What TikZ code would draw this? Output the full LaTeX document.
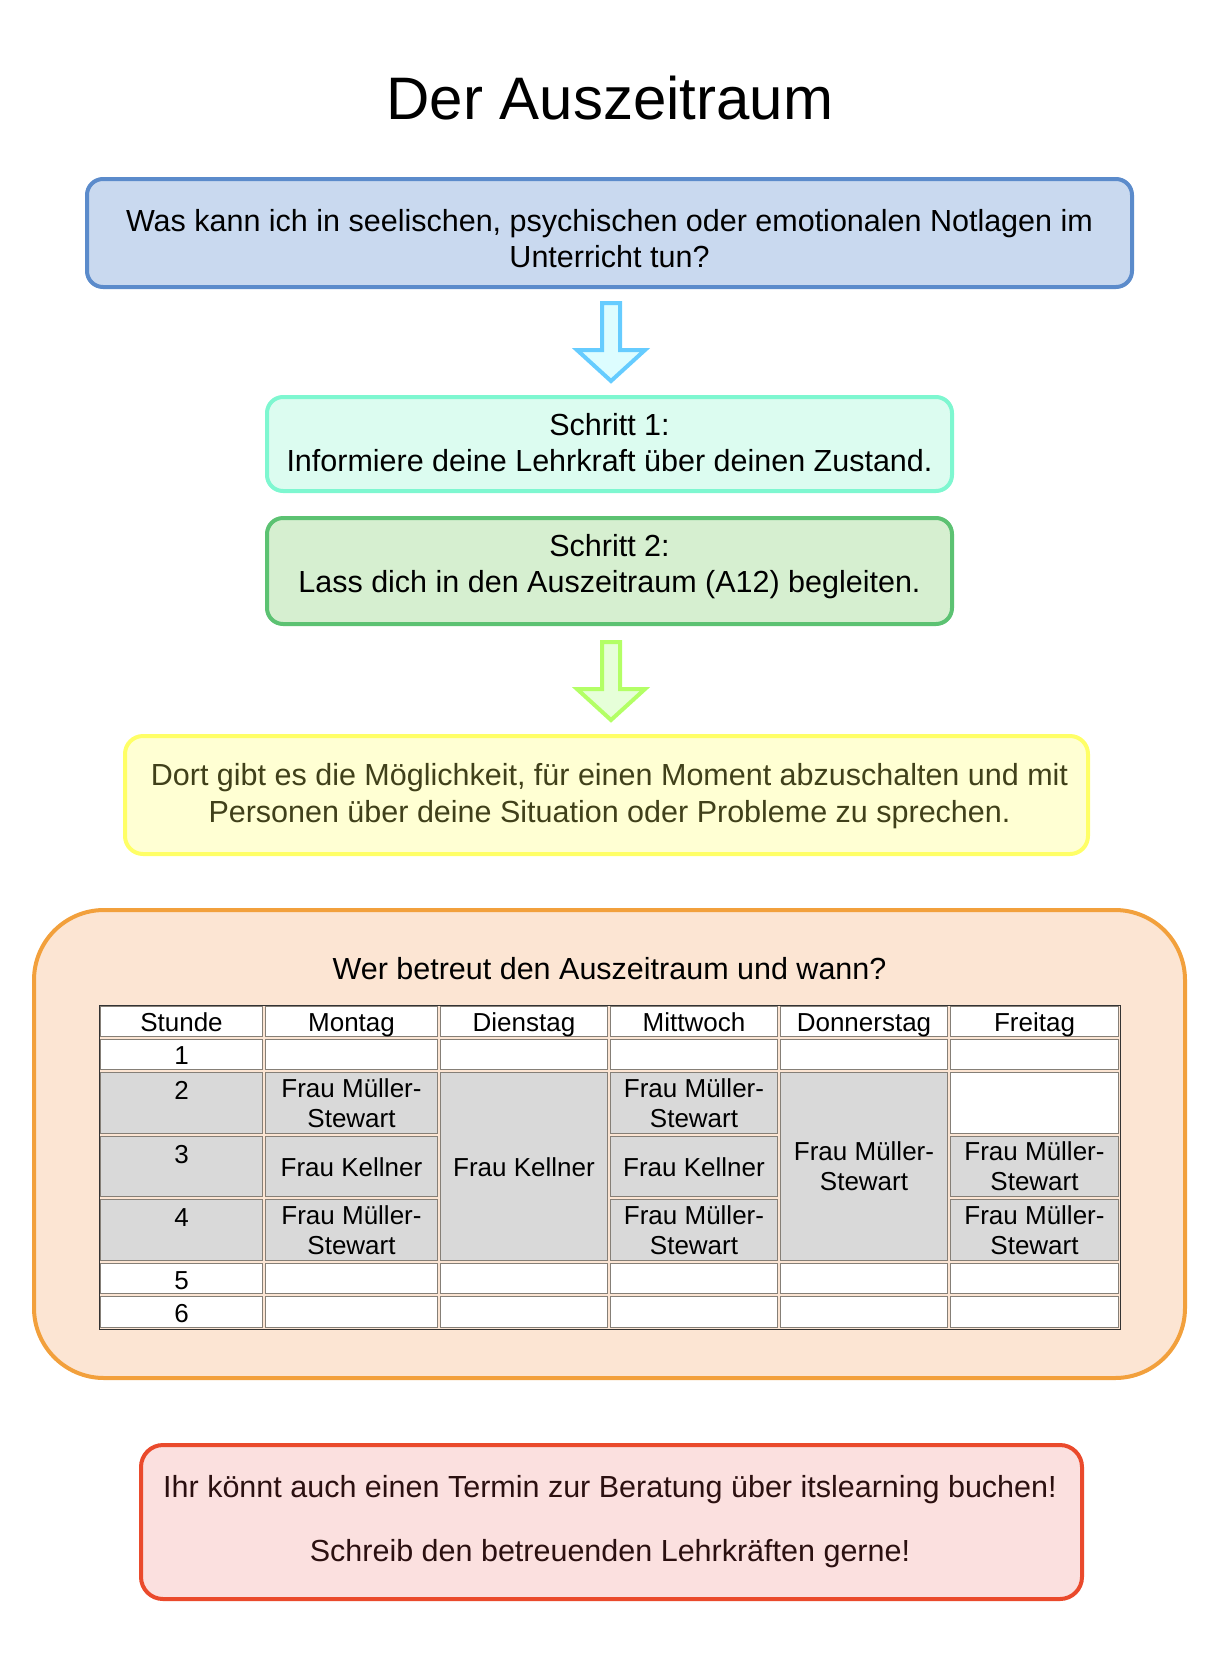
\documentclass[tikz,border=0pt]{standalone}
\usepackage{fontspec}
\setmainfont{Liberation Sans}
\usepackage{tikz}

\definecolor{blauRand}{HTML}{5B8BCB}
\definecolor{blauFill}{HTML}{C9D9EF}
\definecolor{mintRand}{HTML}{7EF7D0}
\definecolor{mintFill}{HTML}{DCFCF0}
\definecolor{gruenRand}{HTML}{5CC272}
\definecolor{gruenFill}{HTML}{D6EFD0}
\definecolor{gelbRand}{HTML}{FFFF66}
\definecolor{gelbFill}{HTML}{FFFFD3}
\definecolor{gelbText}{HTML}{40401A}
\definecolor{orangeRand}{HTML}{F2A03C}
\definecolor{orangeFill}{HTML}{FCE5D3}
\definecolor{rotRand}{HTML}{EA4A2C}
\definecolor{rotFill}{HTML}{FBE0DF}
\definecolor{rotText}{HTML}{2B1010}
\definecolor{cyanRand}{HTML}{66CCFF}
\definecolor{cyanFill}{HTML}{DDFDFF}
\definecolor{limeRand}{HTML}{B3FF66}
\definecolor{limeFill}{HTML}{E6FFD9}
\definecolor{zellRand}{HTML}{857F77}
\definecolor{zellGrau}{HTML}{D9D9D9}

\newcommand{\titelfont}{\fontsize{60}{70}\selectfont}
\newcommand{\fliessfont}{\fontsize{30.5}{36}\selectfont}
\newcommand{\tabfont}{\fontsize{26}{30}\selectfont}

\begin{document}
\begin{tikzpicture}[x=1pt, y=-1pt,
    kasten/.style={line width=4pt, rounded corners=16pt, inner sep=0pt},
    fliess/.style={font=\fliessfont, align=center, inner sep=0pt},
    zelle/.style={draw=zellRand, line width=1.6pt},
    ztext/.style={font=\tabfont, align=center, inner sep=0pt},
    pfeil/.style={line width=4pt, line join=miter}]
        \useasboundingbox (0,0) rectangle (1220,1660);

        % titel
        \node[font=\titelfont, inner sep=0pt] (titel) at (610,98) {Der Auszeitraum};

        % frage
        \node[kasten, draw=blauRand, fill=blauFill, minimum width=1045pt, minimum height=108pt] (frage) at (609.5,233) {};
        \node[fliess] (frageText) at (609.5,239) {Was kann ich in seelischen, psychischen oder emotionalen Notlagen im\\Unterricht tun?};

        % pfeil 1
        \filldraw[pfeil, draw=cyanRand, fill=cyanFill] (602,303) -- (620,303) -- (620,350) -- (645,350)
            -- (611,381) -- (577,350) -- (602,350) -- cycle;

        % schritt 1 + 2
        \node[kasten, draw=mintRand, fill=mintFill, minimum width=685pt, minimum height=94pt] (schritt1) at (609.5,444) {};
        \node[fliess] (schritt1Text) at (609.5,443) {Schritt 1:\\Informiere deine Lehrkraft über deinen Zustand.};
        \node[kasten, draw=gruenRand, fill=gruenFill, minimum width=685pt, minimum height=106pt] (schritt2) at (609.5,571) {};
        \node[fliess] (schritt2Text) at (609.5,567) {Schritt 2:\\Lass dich in den Auszeitraum (A12) begleiten.};

        % pfeil 2
        \filldraw[pfeil, draw=limeRand, fill=limeFill] (602,642) -- (620,642) -- (620,689) -- (645,689)
            -- (611,720) -- (577,689) -- (602,689) -- cycle;

        % hinweis
        \node[kasten, rounded corners=18pt, draw=gelbRand, fill=gelbFill, minimum width=963pt, minimum height=118pt] (hinweis) at (606.5,795) {};
        \node[fliess, text=gelbText, font=\fontsize{30.5}{37}\selectfont] (hinweisText) at (609.5,796.5) {Dort gibt es die Möglichkeit, für einen Moment abzuschalten und mit\\Personen über deine Situation oder Probleme zu sprechen.};

        % betreuung
        \node[kasten, rounded corners=70pt, draw=orangeRand, fill=orangeFill, minimum width=1151pt, minimum height=468pt] (betreuung) at (609.5,1144) {};
        \node[fliess] (frageWer) at (609.5,969) {Wer betreut den Auszeitraum und wann?};

        % tabelle
        \foreach \ya/\yb in {1005/1038, 1038/1071, 1262/1295, 1295/1329}
          \foreach \xa/\xb in {99/264, 264/439, 439/609, 609/779, 779/949, 949/1120}
            \filldraw[zelle, fill=white] (\xa+1.5,\ya+1.5) rectangle (\xb-1.5,\yb-1.5);
        \foreach \ya/\yb in {1071/1135, 1135/1198, 1198/1262}
          \foreach \xa/\xb in {99/264, 264/439, 609/779}
            \filldraw[zelle, fill=zellGrau] (\xa+1.5,\ya+1.5) rectangle (\xb-1.5,\yb-1.5);
        \filldraw[zelle, fill=zellGrau] (440.5,1072.5) rectangle (607.5,1260.5);
        \filldraw[zelle, fill=zellGrau] (780.5,1072.5) rectangle (947.5,1260.5);
        \filldraw[zelle, fill=white] (950.5,1072.5) rectangle (1118.5,1133.5);
        \filldraw[zelle, fill=zellGrau] (950.5,1136.5) rectangle (1118.5,1196.5);
        \filldraw[zelle, fill=zellGrau] (950.5,1199.5) rectangle (1118.5,1260.5);
        \draw[line width=1pt, black!80] (99,1005) rectangle (1120,1329);

        % kopfzeile + stunden
        \foreach \x/\n in {181.5/Stunde, 351.5/Montag, 524/Dienstag, 694/Mittwoch, 864/Donnerstag, 1034.5/Freitag}
          \node[ztext, anchor=base] (kopf\n) at (\x,1031) {\n};
        \foreach \n/\y in {1/1064, 2/1099, 3/1163, 4/1226, 5/1289, 6/1322}
          \node[ztext, anchor=base] (std\n) at (181.5,\y) {\n};

        % eintraege
        \node[ztext] (mo2) at (351.5,1103) {Frau Müller-\\Stewart};
        \node[ztext, anchor=base] (mo3) at (351.5,1176) {Frau Kellner};
        \node[ztext] (mo4) at (351.5,1230) {Frau Müller-\\Stewart};
        \node[ztext, anchor=base] (di) at (524,1176) {Frau Kellner};
        \node[ztext] (mi2) at (694,1103) {Frau Müller-\\Stewart};
        \node[ztext, anchor=base] (mi3) at (694,1176) {Frau Kellner};
        \node[ztext] (mi4) at (694,1230) {Frau Müller-\\Stewart};
        \node[ztext] (do) at (864,1166.5) {Frau Müller-\\Stewart};
        \node[ztext] (fr3) at (1034.5,1166.5) {Frau Müller-\\Stewart};
        \node[ztext] (fr4) at (1034.5,1230) {Frau Müller-\\Stewart};

        % kontakt
        \node[kasten, rounded corners=22pt, draw=rotRand, fill=rotFill, minimum width=941pt, minimum height=154pt] (kontakt) at (611.5,1522) {};
        \node[fliess, text=rotText] (kontakt1) at (610,1489.5) {Ihr könnt auch einen Termin zur Beratung über itslearning buchen!};
        \node[fliess, text=rotText] (kontakt2) at (610,1554) {Schreib den betreuenden Lehrkräften gerne!};

\end{tikzpicture}
\end{document}
